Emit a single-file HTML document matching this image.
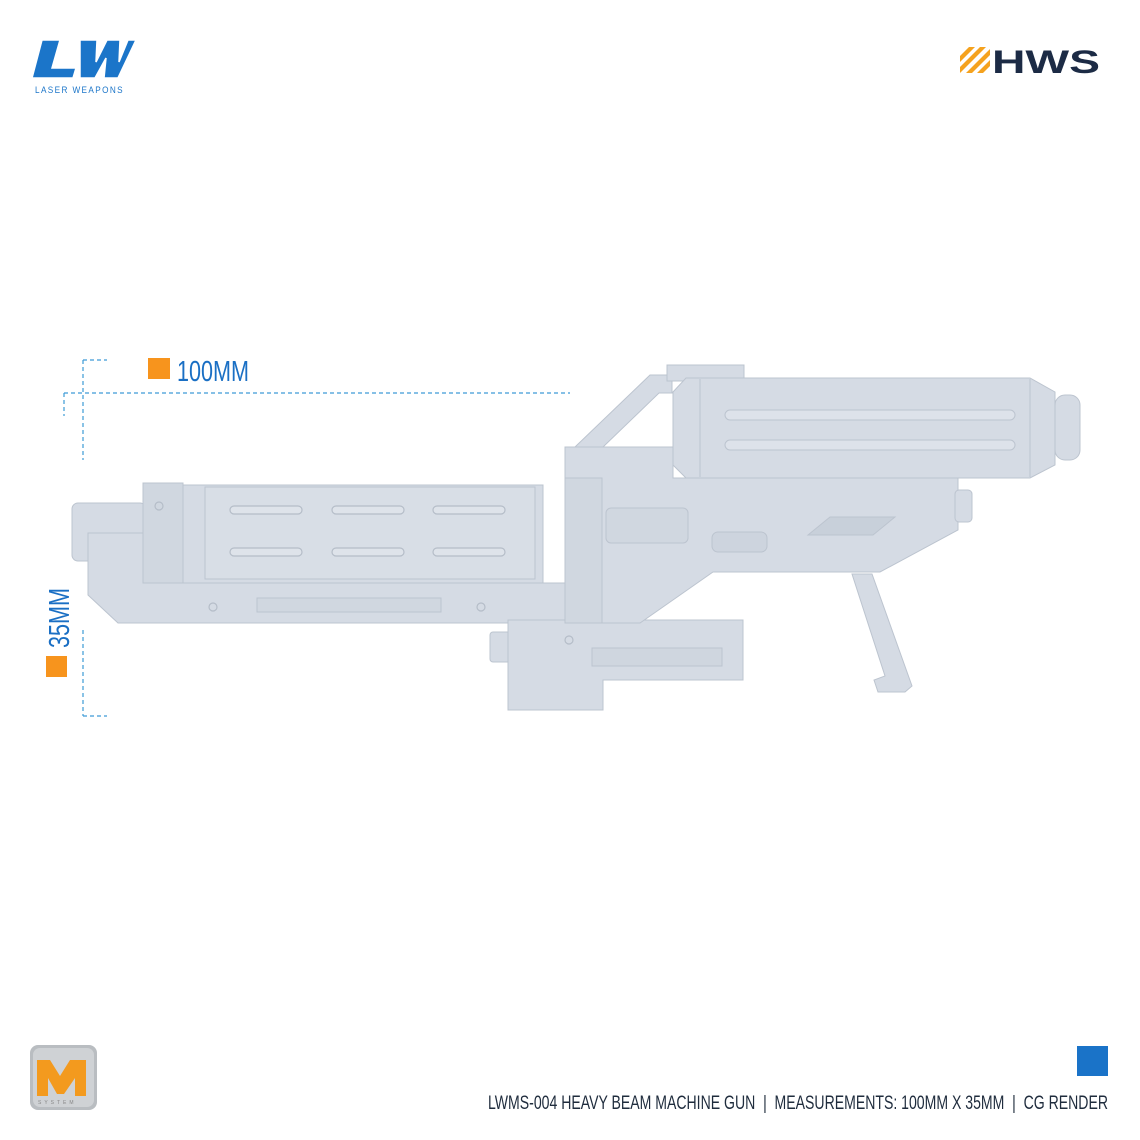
<!DOCTYPE html>
<html><head><meta charset="utf-8"><style>
html,body{margin:0;padding:0;background:#fff;width:1140px;height:1140px;overflow:hidden}
svg{display:block}
</style></head><body>
<svg width="1140" height="1140" viewBox="0 0 1140 1140" xmlns="http://www.w3.org/2000/svg">
<rect width="1140" height="1140" fill="#fff"/>

<!-- LW logo -->
<g>
 <polygon points="42,40 60,40 52,68 76,68 73,78 32,78" fill="#1b75c9" stroke="#fff" stroke-width="1.5"/>
 <polygon points="80,40 97,40 96,62 107,40 120,40 119,62 128,40 136,40 118,78 104,78 106,58 95,78 80,78" fill="#1b75c9" stroke="#fff" stroke-width="1.5"/>
 <text x="35" y="93" font-family="Liberation Sans, sans-serif" font-size="9.5" letter-spacing="1.6" fill="#1b75c9" textLength="89" lengthAdjust="spacingAndGlyphs">LASER WEAPONS</text>
</g>

<!-- HWS logo -->
<g>
 <polygon points="960,56 969,47 975,47 960,62" fill="#f5a21e"/>
 <polygon points="960,67 980,47 986,47 960,73" fill="#f5a21e"/>
 <polygon points="966,73 990,49 990,55 972,73" fill="#f5a21e"/>
 <polygon points="977,73 990,60 990,66 983,73" fill="#f5a21e"/>
 <text x="992" y="73" font-family="Liberation Sans, sans-serif" font-weight="bold" font-size="32" fill="#1c2b45" textLength="108" lengthAdjust="spacingAndGlyphs">HWS</text>
</g>

<!-- dimension lines -->
<g stroke="#3d9bd6" stroke-width="1.2" stroke-dasharray="4,3" fill="none">
 <line x1="64" y1="393" x2="570" y2="393"/>
 <line x1="64" y1="393" x2="64" y2="416"/>
 <line x1="83" y1="360" x2="83" y2="460"/>
 <line x1="83" y1="360" x2="107" y2="360"/>
 <line x1="83" y1="630" x2="83" y2="716"/>
 <line x1="83" y1="716" x2="107" y2="716"/>
</g>
<rect x="148" y="358" width="22" height="21" fill="#f7941d"/>
<text x="177" y="381" font-family="Liberation Sans, sans-serif" font-size="29" fill="#1a6fc4" textLength="72" lengthAdjust="spacingAndGlyphs">100MM</text>
<rect x="46" y="656" width="21" height="21" fill="#f7941d"/>
<text transform="translate(69,648) rotate(-90)" font-family="Liberation Sans, sans-serif" font-size="29" fill="#1a6fc4" textLength="60" lengthAdjust="spacingAndGlyphs">35MM</text>

<!-- GUN -->
<g stroke="#bcc4cf" stroke-width="1" fill="#d5dbe4">
 <rect x="72" y="503" width="74" height="58" rx="6"/>
 <polygon points="88,533 145,533 145,583 570,583 570,623 118,623 88,595"/>
 <rect x="143" y="483" width="40" height="100" fill="#d0d7e0"/>
 <rect x="183" y="485" width="360" height="98"/>
 <rect x="205" y="487" width="330" height="92" fill="#d8dee6"/>
 <rect x="257" y="598" width="184" height="14" fill="#d0d7e0"/>
 <rect x="490" y="632" width="22" height="30" rx="3"/>
 <polygon points="508,620 743,620 743,680 603,680 603,710 508,710"/>
 <rect x="592" y="648" width="130" height="18" fill="#cfd6df"/>
 <polygon points="852,574 872,574 912,686 905,692 878,692 874,680 885,676"/>
 <polygon points="565,447 673,447 673,478 958,478 958,530 880,572 713,572 640,623 565,623"/>
 <rect x="565" y="478" width="37" height="145" fill="#d0d7e0"/>
 <rect x="606" y="508" width="82" height="35" rx="5" fill="#d0d7e0"/>
 <rect x="712" y="532" width="55" height="20" rx="6" fill="#cdd4de"/>
 <polygon points="808,535 830,517 895,517 873,535" fill="#c8d0da"/>
 <rect x="955" y="490" width="17" height="32" rx="4"/>
 <polygon points="575,447 650,375 672,375 672,393 659,393 603,447"/>
 <rect x="667" y="365" width="77" height="16"/>
 <polygon points="686,378 1030,378 1055,392 1055,465 1030,478 686,478 673,465 673,392"/>
 <rect x="1055" y="395" width="25" height="65" rx="10"/>
 <line x1="700" y1="379" x2="700" y2="477"/>
 <line x1="1030" y1="379" x2="1030" y2="477"/>
 <rect x="725" y="410" width="290" height="10" rx="5" fill="#dde2ea"/>
 <rect x="725" y="440" width="290" height="10" rx="5" fill="#dde2ea"/>
</g>
<g fill="#dee3ea" stroke="#b5bdc8" stroke-width="1.2">
 <rect x="230" y="506" width="72" height="8" rx="4"/>
 <rect x="332" y="506" width="72" height="8" rx="4"/>
 <rect x="433" y="506" width="72" height="8" rx="4"/>
 <rect x="230" y="548" width="72" height="8" rx="4"/>
 <rect x="332" y="548" width="72" height="8" rx="4"/>
 <rect x="433" y="548" width="72" height="8" rx="4"/>
</g>
<g fill="none" stroke="#b5bdc8" stroke-width="1.2">
 <circle cx="159" cy="506" r="4"/>
 <circle cx="213" cy="607" r="4"/>
 <circle cx="481" cy="607" r="4"/>
 <circle cx="569" cy="640" r="4"/>
</g>

<!-- M system logo -->
<rect x="30" y="1045" width="67" height="65" rx="8" fill="#b9bdc1"/>
<rect x="33" y="1048" width="61" height="59" rx="7" fill="#cfd2d5"/>
<polygon points="37,1060 50,1060 60,1076 70,1060 86,1060 86,1096 75,1096 75,1078 64,1094 57,1094 48,1078 48,1096 37,1096" fill="#f39a1e"/>
<text x="38" y="1104" font-family="Liberation Sans, sans-serif" font-size="5" letter-spacing="3" fill="#888">SYSTEM</text>

<rect x="1077" y="1046" width="31" height="30" fill="#1a73c8"/>

<text x="1108" y="1109" text-anchor="end" font-family="Liberation Sans Narrow, Liberation Sans, sans-serif" font-size="19" fill="#1f2c3d" textLength="620" lengthAdjust="spacingAndGlyphs" xml:space="preserve">LWMS-004 HEAVY BEAM MACHINE GUN  |  MEASUREMENTS: 100MM X 35MM  |  CG RENDER</text>
</svg>
</body></html>
